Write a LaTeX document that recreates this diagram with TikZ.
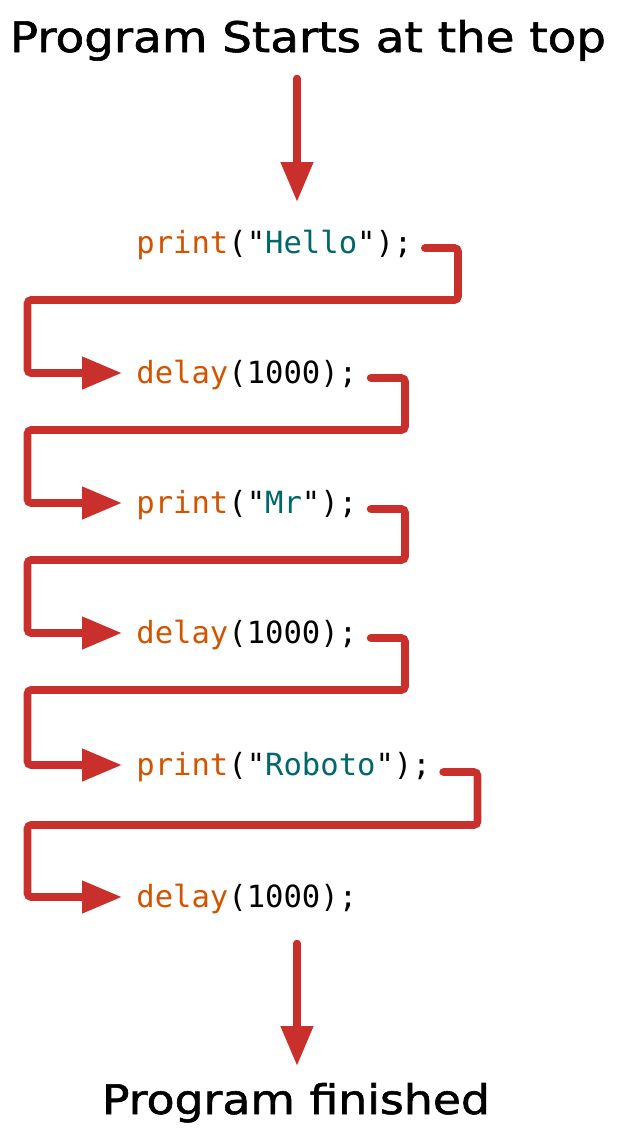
\documentclass[tikz,border=0pt]{standalone}
\usepackage{fontspec}
\setmainfont{DejaVu Sans}
\newfontfamily\titlefont[FakeBold=1.3]{DejaVu Sans}
\newfontfamily\codefont{DejaVu Sans Mono}
\usetikzlibrary{arrows.meta}
\definecolor{arrowred}{HTML}{C9302C}
\definecolor{kworange}{HTML}{D35400}
\definecolor{strteal}{HTML}{00686B}
\newcommand{\kw}[1]{\textcolor{kworange}{#1}}
\newcommand{\str}[1]{\textcolor{strteal}{#1}}
\begin{document}
\begin{tikzpicture}[x=0.5pt,y=-0.5pt,
  conn/.style={draw=arrowred,line width=3.8pt,line cap=round,rounded corners=1.8pt,
    -{Triangle[length=20pt,width=15.5pt]}},
  codeline/.style={inner sep=0pt,anchor=base west,font=\codefont\fontsize{15.28pt}{18pt}\selectfont},
  titletext/.style={inner sep=0pt,anchor=base,font=\titlefont}]
\useasboundingbox[fill=white] (0,0) rectangle (618,1136);
\node[titletext] (t1) at (308,52) {\resizebox{298pt}{16pt}{Program Starts at the top}};
\node[titletext] (t2) at (296,1114) {\resizebox{194pt}{15.5pt}{Program finished}};
\node[codeline] (c1) at (136,253) {\kw{print}("\str{Hello}");};
\node[codeline] (c2) at (136,383) {\kw{delay}(1000);};
\node[codeline] (c3) at (136,513) {\kw{print}("\str{Mr}");};
\node[codeline] (c4) at (136,643) {\kw{delay}(1000);};
\node[codeline] (c5) at (136,775) {\kw{print}("\str{Roboto}");};
\node[codeline] (c6) at (136,907) {\kw{delay}(1000);};
\coordinate (topstart) at (297,78.5);
\coordinate (topend) at (297,202);
\coordinate (botstart) at (297,943.5);
\coordinate (botend) at (297,1066);
\draw[conn] (topstart) -- (topend);
\draw[conn] ([shift={(12,-5)}]c1.base east) -| (458,300) -| (27.5,373) -- ([shift={(-14,-10)}]c2.base west);
\draw[conn] ([shift={(13,-5)}]c2.base east) -| (405,430) -| (27.5,503) -- ([shift={(-14,-10)}]c3.base west);
\draw[conn] ([shift={(13,-4)}]c3.base east) -| (405,560) -| (27.5,633) -- ([shift={(-14,-10)}]c4.base west);
\draw[conn] ([shift={(13,-5)}]c4.base east) -| (405,690) -| (27.5,765) -- ([shift={(-14,-10)}]c5.base west);
\draw[conn] ([shift={(12,-3)}]c5.base east) -| (477.5,825) -| (27.5,897) -- ([shift={(-14,-10)}]c6.base west);
\draw[conn] (botstart) -- (botend);
\end{tikzpicture}
\end{document}
